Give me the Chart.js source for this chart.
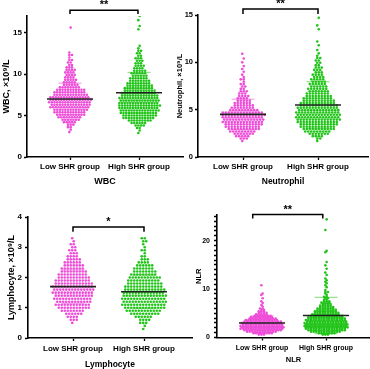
<!DOCTYPE html>
<html>
<head>
<meta charset="utf-8">
<script src="https://cdn.jsdelivr.net/npm/chart.js@4.4.0/dist/chart.umd.min.js"></script>
<style>
  body { margin: 0; width: 370px; height: 369px; overflow: hidden; background: #fff; position: relative; }
  canvas { position: absolute; }
</style>
</head>
<body>
<script>
const groups = ["Low SHR group", "High SHR group"];

// each row: [value, number of patients shown at that value]
const wbcLow = [[3.0,1],[3.3,1],[3.6,2],[3.9,3],[4.2,5],[4.5,7],[4.8,9],[5.1,11],[5.4,12],[5.7,13],[6.0,15],[6.3,15],[6.6,16],[6.9,16],[7.2,15],[7.5,13],[7.8,12],[8.1,11],[8.4,8],[8.7,6],[9.0,5],[9.3,5],[9.6,4],[9.9,4],[10.2,4],[10.5,4],[10.8,3],[11.1,2],[11.4,2],[11.7,2],[12.0,1],[12.3,2],[12.6,1],[15.6,1]];
const wbcHigh = [[2.9,1],[3.2,1],[3.5,2],[3.8,4],[4.1,6],[4.4,9],[4.7,12],[5.0,13],[5.3,14],[5.6,15],[5.9,15],[6.2,16],[6.5,15],[6.8,15],[7.1,15],[7.4,14],[7.7,13],[8.0,12],[8.3,11],[8.6,10],[8.9,9],[9.2,8],[9.5,7],[9.8,6],[10.1,6],[10.4,5],[10.7,4],[11.0,4],[11.3,3],[11.6,3],[11.9,3],[12.2,2],[12.5,2],[12.8,2],[13.1,1],[13.4,1],[15.4,1],[15.8,1],[16.5,1],[17.0,1]];
const wbcMean = [7.0, 7.75];
const wbcSd = [1.9, 2.45];
const wbcTicks = [0, 5, 10, 15];
const wbcBracket = [1, 1.985, 17.25, 17.7];

const neutLow = [[1.7,1],[1.95,3],[2.2,5],[2.45,7],[2.7,9],[2.95,11],[3.2,12],[3.45,13],[3.7,14],[3.95,14],[4.2,14],[4.45,15],[4.7,14],[4.95,10],[5.2,8],[5.45,7],[5.7,6],[5.95,5],[6.2,4],[6.45,4],[6.7,3],[6.95,3],[7.2,2],[7.45,2],[7.7,2],[7.95,1],[8.2,2],[8.45,1],[8.7,1],[9.0,1],[9.3,1],[9.6,1],[10.0,1],[10.4,1],[10.9,1]];
const neutHigh = [[1.7,1],[1.95,2],[2.2,4],[2.45,7],[2.7,9],[2.95,11],[3.2,12],[3.45,13],[3.7,14],[3.95,15],[4.2,15],[4.45,15],[4.7,15],[4.95,14],[5.2,14],[5.45,13],[5.7,12],[5.95,11],[6.2,10],[6.45,9],[6.7,8],[6.95,7],[7.2,7],[7.45,6],[7.7,6],[7.95,5],[8.2,5],[8.45,4],[8.7,4],[8.95,3],[9.2,3],[9.45,3],[9.7,2],[9.95,2],[10.2,2],[10.45,2],[10.7,1],[10.95,1],[11.3,1],[11.8,1],[12.2,1],[13.5,1],[13.9,1],[14.7,1]];
const neutMean = [4.5, 5.5];
const neutSd = [1.6, 2.45];
const neutTicks = [0, 5, 10, 15];
const neutBracket = [1, 2, 15.1, 15.63];

const lymphLow = [[0.5,1],[0.6,3],[0.7,4],[0.8,6],[0.9,8],[1.0,11],[1.1,12],[1.2,12],[1.3,13],[1.4,13],[1.5,14],[1.6,14],[1.7,14],[1.8,13],[1.9,12],[2.0,11],[2.1,10],[2.2,9],[2.3,8],[2.4,7],[2.5,6],[2.6,5],[2.7,4],[2.8,3],[2.9,3],[3.0,2],[3.1,2],[3.2,1],[3.3,1]];
const lymphHigh = [[0.3,1],[0.4,1],[0.5,3],[0.6,4],[0.7,6],[0.8,10],[0.9,12],[1.0,14],[1.1,15],[1.2,15],[1.3,15],[1.4,15],[1.5,14],[1.6,14],[1.7,13],[1.8,12],[1.9,11],[2.0,11],[2.1,9],[2.2,8],[2.3,7],[2.4,6],[2.5,4],[2.6,3],[2.7,2],[2.8,1],[2.9,2],[3.0,1],[3.1,1],[3.2,2],[3.3,2]];
const lymphMean = [1.7, 1.53];
const lymphSd = [0.55, 0.55];
const lymphTicks = [0, 1, 2, 3, 4];
const lymphBracket = [1, 2, 3.51, 3.67];

const nlrLow = [[0.6,3],[0.9,8],[1.2,12],[1.5,15],[1.8,17],[2.1,17],[2.4,17],[2.7,16],[3.0,16],[3.3,15],[3.6,13],[3.9,11],[4.2,9],[4.5,7],[4.8,5],[5.1,4],[5.4,3],[5.7,2],[6.0,2],[6.4,1],[6.7,1],[7.1,1],[7.5,1],[8.1,1],[8.8,1],[9.1,1],[10.8,1]];
const nlrHigh = [[0.6,3],[0.9,7],[1.2,12],[1.5,15],[1.8,16],[2.1,17],[2.4,17],[2.7,17],[3.0,17],[3.3,16],[3.6,16],[3.9,15],[4.2,14],[4.5,13],[4.8,11],[5.1,10],[5.4,9],[5.7,8],[6.0,7],[6.3,6],[6.6,5],[6.9,4],[7.2,4],[7.5,3],[7.8,2],[8.1,2],[8.4,2],[8.8,1],[9.1,1],[9.4,2],[9.8,1],[10.4,1],[10.8,1],[11.2,1],[11.5,1],[11.8,1],[12.2,1],[12.9,1],[13.4,1],[14.2,1],[14.9,1],[15.6,1],[17.6,1],[17.9,1],[22.2,1],[24.4,1]];
const nlrMean = [3.0, 4.55];
const nlrSd = [1.5, 3.75];
const nlrTicks = [0,1,2,3,4,5,6,7,8,9,10,11,12,13,14,15,16,17,18,19,20,21,22,23,24,25];
const nlrLabelTicks = [0, 10, 20];
const nlrBracket = [0.855, 1.95, 24.6, 25.4];

const pink = "#ee4dd8";
const green = "#22c41a";
const pinkSd = "#f7a6ec";
const greenSd = "#92e28a";
const family = "'Liberation Sans', Arial, sans-serif";

const panels = [
  { title: "WBC", yTitle: "WBC, ×10⁹/L", low: wbcLow, high: wbcHigh, mean: wbcMean, sd: wbcSd,
    ticks: wbcTicks, labelTicks: wbcTicks, ymax: 17, stars: "**", bracket: wbcBracket,
    box: { left: 0, top: 0, w: 185, h: 190 }, area: { l: 27, t: 16, r: 183, b: 157 }, cat: [70, 139],
    step: 2.7, fonts: { tick: 8, label: 8, title: 9, yTitle: 9 }, xTitleY: 181.7, yTitleX: 7, tickPad: 2, labelPad: 2 },
  { title: "Neutrophil", yTitle: "Neutrophil, ×10⁹/L", low: neutLow, high: neutHigh, mean: neutMean, sd: neutSd,
    ticks: neutTicks, labelTicks: neutTicks, ymax: 15, stars: "**", bracket: neutBracket,
    box: { left: 165, top: 0, w: 205, h: 190 }, area: { l: 198, t: 15, r: 368, b: 157 }, cat: [243, 318],
    step: 3.0, fonts: { tick: 7.5, label: 8, title: 8.5, yTitle: 7.5 }, xTitleY: 181.7, yTitleX: 180, tickPad: 2, labelPad: 2 },
  { title: "Lymphocyte", yTitle: "Lymphocyte, ×10⁹/L", low: lymphLow, high: lymphHigh, mean: lymphMean, sd: lymphSd,
    ticks: lymphTicks, labelTicks: lymphTicks, ymax: 4, stars: "*", bracket: lymphBracket,
    box: { left: 0, top: 190, w: 194, h: 185 }, area: { l: 28, t: 217, r: 192, b: 338 }, cat: [73, 144],
    step: 3.0, fonts: { tick: 8, label: 8, title: 8.5, yTitle: 9 }, xTitleY: 364.3, yTitleX: 11.7, tickPad: 3, labelPad: 2.5 },
  { title: "NLR", yTitle: "NLR", low: nlrLow, high: nlrHigh, mean: nlrMean, sd: nlrSd,
    ticks: nlrTicks, labelTicks: nlrLabelTicks, ymax: 25.3, stars: "**", bracket: nlrBracket,
    box: { left: 190, top: 195, w: 180, h: 180 }, area: { l: 217, t: 215, r: 370, b: 337.5 }, cat: [262, 326],
    step: 2.6, fonts: { tick: 7, label: 7, title: 7.5, yTitle: 7.5 }, xTitleY: 360, yTitleX: 199, tickPad: 4, labelPad: 3 }
];

const starPlugin = {
  id: "stars",
  afterDatasetsDraw(chart, args, opts) {
    const { ctx, scales: { x, y } } = chart;
    const b = opts.bracket;
    ctx.save();
    ctx.font = "bold 11px " + family;
    ctx.textAlign = "center";
    ctx.textBaseline = "middle";
    ctx.fillStyle = "#000";
    ctx.fillText(opts.text, x.getPixelForValue((b[0] + b[1]) / 2), y.getPixelForValue(b[3]) - 5);
    ctx.restore();
  }
};

panels.forEach(p => {
  const cv = document.createElement("canvas");
  cv.width = p.box.w;
  cv.height = p.box.h;
  cv.style.left = p.box.left + "px";
  cv.style.top = p.box.top + "px";
  document.body.appendChild(cv);

  const unit = p.cat[1] - p.cat[0];
  const xmin = 1 - (p.cat[0] - p.area.l) / unit;
  const xmax = 2 + (p.area.r - p.cat[1]) / unit;

  // beeswarm: points of a row side by side, alternate rows nudged a little to break up columns
  const swarm = (rows, c) => rows.flatMap(([v, n], r) =>
    Array.from({ length: n }, (_, i) => ({
      x: c + (i - (n - 1) / 2 + (r % 2 ? 0.25 : -0.25)) * p.step / unit,
      y: v
    })));
  const hLine = (c, y, half) => [{ x: c - half / unit, y }, { x: c + half / unit, y }];
  const line = (data, color, width, order) => ({
    data, showLine: true, borderColor: color, borderWidth: width, pointRadius: 0, order, clip: false
  });
  const dots = (data, color) => ({
    data, backgroundColor: color, borderWidth: 0, pointRadius: 1.3, order: 1
  });

  const b = p.bracket;
  const titleLH = p.fonts.title * 1.2;
  const yTitleLH = p.fonts.yTitle * 1.2;
  const axisGrid = { display: true, drawOnChartArea: false, drawTicks: true, tickLength: 3, color: "#000", tickWidth: 1.3 };
  const axisBorder = { display: true, color: "#000", width: 1.6 };
  const f = size => ({ family, size, weight: "bold" });

  new Chart(cv, {
    type: "scatter",
    data: {
      datasets: [
        line(hLine(1, p.mean[0], 23), "#222", 1.6, 0),
        line(hLine(2, p.mean[1], 23), "#222", 1.6, 0),
        line([{ x: b[0], y: b[2] }, { x: b[0], y: b[3] }, { x: b[1], y: b[3] }, { x: b[1], y: b[2] }], "#000", 1.5, 0),
        dots(swarm(p.low, 1), pink),
        dots(swarm(p.high, 2), green),
        line(hLine(1, p.mean[0] + p.sd[0], 11.5), pinkSd, 1.2, 2),
        line(hLine(1, p.mean[0] - p.sd[0], 11.5), pinkSd, 1.2, 2),
        line(hLine(2, p.mean[1] + p.sd[1], 11.5), greenSd, 1.2, 2),
        line(hLine(2, p.mean[1] - p.sd[1], 11.5), greenSd, 1.2, 2)
      ]
    },
    options: {
      responsive: false,
      animation: false,
      events: [],
      layout: {
        autoPadding: false,
        padding: { left: 0, top: p.area.t - p.box.top, right: p.box.left + p.box.w - p.area.r, bottom: 0 }
      },
      plugins: {
        legend: { display: false },
        tooltip: { enabled: false },
        stars: { text: p.stars, bracket: b }
      },
      scales: {
        x: {
          type: "linear", min: xmin, max: xmax,
          afterBuildTicks: s => { s.ticks = [{ value: 1 }, { value: 2 }]; },
          afterFit: s => { s.height = p.box.top + p.box.h - p.area.b; },
          ticks: { callback: v => groups[v - 1] || "", font: f(p.fonts.label), color: "#000", padding: p.labelPad, autoSkip: false, maxRotation: 0 },
          grid: axisGrid,
          border: axisBorder,
          title: { display: true, text: p.title, font: f(p.fonts.title), color: "#000",
                   padding: { top: 0, bottom: p.box.top + p.box.h - p.xTitleY - titleLH / 2 } }
        },
        y: {
          type: "linear", min: 0, max: p.ymax,
          afterBuildTicks: s => { s.ticks = p.ticks.map(v => ({ value: v })); },
          afterFit: s => { s.width = p.area.l - p.box.left; },
          ticks: { callback: v => p.labelTicks.includes(v) ? String(v) : "", font: f(p.fonts.tick), color: "#000", padding: p.tickPad, autoSkip: false },
          grid: axisGrid,
          border: axisBorder,
          title: { display: true, text: p.yTitle, font: f(p.fonts.yTitle), color: "#000",
                   padding: { top: p.yTitleX - p.box.left - yTitleLH / 2, bottom: 0 } }
        }
      }
    },
    plugins: [starPlugin]
  });
});
</script>
</body>
</html>
